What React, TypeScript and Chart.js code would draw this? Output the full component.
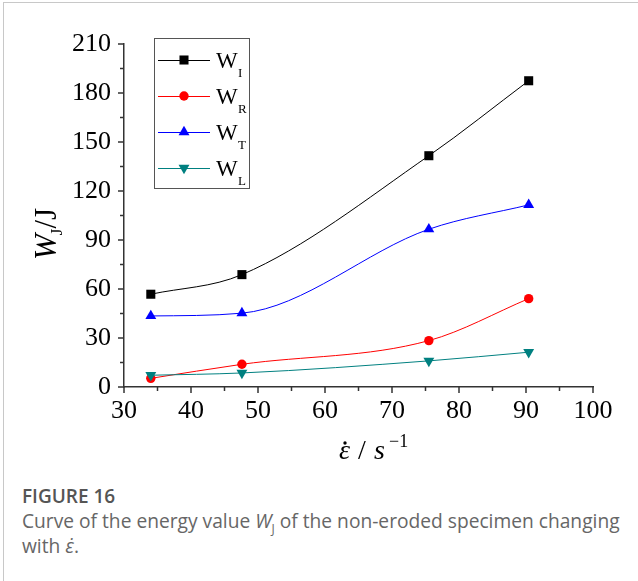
import React, { useEffect, useRef } from 'react';
import { Chart, registerables } from 'chart.js';

Chart.register(...registerables);

// ---- data ----
const strainRate = [34.0, 47.6, 75.5, 90.4];
const wI = [56.8, 68.8, 141.6, 187.5];
const wR = [5.3, 13.9, 28.4, 54.1];
const wT = [43.5, 45.2, 96.6, 111.5];
const wL = [7.2, 8.6, 16.0, 21.3];
const seriesSubs = ['I', 'R', 'T', 'L'];

const xTicks = [30, 40, 50, 60, 70, 80, 90, 100];
const xMinorTicks = [35, 45, 55, 65, 75, 85, 95];
const yTicks = [0, 30, 60, 90, 120, 150, 180, 210];
const yMinorTicks = [15, 45, 75, 105, 135, 165, 195];

const SERIF = "'Liberation Serif', 'Times New Roman', serif";

type Style = { line: string; fill: string; shape: string; rotation: number; radius: number };
const styles: Style[] = [
  { line: '#000000', fill: '#000000', shape: 'rect', rotation: 0, radius: 6.4 },
  { line: '#ff0000', fill: '#ff0000', shape: 'circle', rotation: 0, radius: 4.7 },
  { line: '#0000ff', fill: '#0000ff', shape: 'triangle', rotation: 0, radius: 6.3 },
  { line: '#008080', fill: '#008080', shape: 'triangle', rotation: 180, radius: 6.3 },
];
const seriesValues = [wI, wR, wT, wL];

function drawMarker(ctx: CanvasRenderingContext2D, st: Style, x: number, y: number) {
  ctx.save();
  ctx.fillStyle = st.fill;
  ctx.beginPath();
  const r = st.radius;
  if (st.shape === 'rect') {
    const s = Math.SQRT1_2 * r;
    ctx.rect(x - s, y - s, 2 * s, 2 * s);
  } else if (st.shape === 'circle') {
    ctx.arc(x, y, r, 0, Math.PI * 2);
  } else {
    let rad = (st.rotation * Math.PI) / 180;
    ctx.moveTo(x + Math.sin(rad) * r, y - Math.cos(rad) * r);
    rad += (2 * Math.PI) / 3;
    ctx.lineTo(x + Math.sin(rad) * r, y - Math.cos(rad) * r);
    rad += (2 * Math.PI) / 3;
    ctx.lineTo(x + Math.sin(rad) * r, y - Math.cos(rad) * r);
    ctx.closePath();
  }
  ctx.fill();
  ctx.restore();
}

const decorPlugin = {
  id: 'decor',
  afterDraw(chart: any) {
    const ctx: CanvasRenderingContext2D = chart.ctx;
    const xs = chart.scales.x;
    const ys = chart.scales.y;
    const { left, bottom } = chart.chartArea;
    ctx.save();
    // ticks
    ctx.strokeStyle = '#333';
    ctx.lineWidth = 1.5;
    const tick = (x1: number, y1: number, x2: number, y2: number) => {
      ctx.beginPath();
      ctx.moveTo(x1, y1);
      ctx.lineTo(x2, y2);
      ctx.stroke();
    };
    xTicks.forEach((v) => { const p = xs.getPixelForValue(v); tick(p, bottom, p, bottom + 6); });
    xMinorTicks.forEach((v) => { const p = xs.getPixelForValue(v); tick(p, bottom, p, bottom + 4); });
    yTicks.forEach((v) => { const p = ys.getPixelForValue(v); tick(left, p, left - 6, p); });
    yMinorTicks.forEach((v) => { const p = ys.getPixelForValue(v); tick(left, p, left - 4, p); });

    // legend
    ctx.strokeStyle = '#555';
    ctx.lineWidth = 1;
    ctx.strokeRect(154.5, 38.5, 95, 150);
    seriesSubs.forEach((sub, i) => {
      const st = styles[i];
      const y = 60 + i * 36;
      ctx.strokeStyle = st.line;
      ctx.lineWidth = 1;
      ctx.beginPath();
      ctx.moveTo(158, y + 0.5);
      ctx.lineTo(210, y + 0.5);
      ctx.stroke();
      drawMarker(ctx, st, 184, y);
      ctx.fillStyle = '#000';
      ctx.textBaseline = 'alphabetic';
      ctx.textAlign = 'left';
      ctx.font = `23px ${SERIF}`;
      ctx.fillText('W', 216, y + 8);
      ctx.font = `13px ${SERIF}`;
      ctx.fillText(sub, 238, y + 17);
    });

    // y axis title: W_J / J (rotated)
    ctx.save();
    ctx.translate(56, 234);
    ctx.rotate(-Math.PI / 2);
    ctx.fillStyle = '#000';
    ctx.textBaseline = 'alphabetic';
    ctx.textAlign = 'left';
    const fBig = `italic 31px ${SERIF}`;
    const fSub = `17px ${SERIF}`;
    const fUp = `31px ${SERIF}`;
    ctx.font = fBig;
    const wW = ctx.measureText('W').width;
    ctx.font = fSub;
    const wSub = ctx.measureText('J').width;
    ctx.font = fUp;
    const wRest = ctx.measureText('/J').width;
    const total = wW + wSub - 1 + wRest;
    let cx = -total / 2;
    ctx.font = fBig;
    ctx.fillText('W', cx, 0);
    cx += wW - 1;
    ctx.font = fSub;
    ctx.fillText('J', cx, 6);
    cx += wSub;
    ctx.font = fUp;
    ctx.fillText('/J', cx, 0);
    ctx.restore();

    // x axis title: ε̇ / s^-1
    ctx.fillStyle = '#000';
    ctx.textBaseline = 'alphabetic';
    ctx.textAlign = 'left';
    const by = 459;
    ctx.font = `italic 28px ${SERIF}`;
    ctx.fillText('\u03B5', 339, by);
    ctx.beginPath();
    ctx.arc(345, 443, 1.7, 0, Math.PI * 2);
    ctx.fill();
    ctx.font = `28px ${SERIF}`;
    ctx.fillText('/', 358, by);
    ctx.font = `italic 28px ${SERIF}`;
    ctx.fillText('s', 374, by);
    ctx.font = `18px ${SERIF}`;
    ctx.fillText('\u22121', 389, by - 12);

    ctx.restore();
  },
};

function ChartBox() {
  const ref = useRef<HTMLCanvasElement | null>(null);
  useEffect(() => {
    if (!ref.current) return;
    const datasets = seriesValues.map((vals, i) => ({
      label: 'W' + seriesSubs[i],
      data: vals.map((v, j) => ({ x: strainRate[j], y: v })),
      borderColor: styles[i].line,
      backgroundColor: styles[i].fill,
      pointBackgroundColor: styles[i].fill,
      pointBorderColor: styles[i].fill,
      pointBorderWidth: 0,
      pointStyle: styles[i].shape,
      pointRotation: styles[i].rotation,
      pointRadius: styles[i].radius,
      borderWidth: 1,
      cubicInterpolationMode: 'monotone',
      tension: 0.4,
      fill: false,
      order: 3 - i,
    }));
    const tickFont = { family: SERIF, size: 26, style: 'normal', weight: 'normal', lineHeight: 1.2 };
    const chart = new Chart(ref.current, {
      type: 'line',
      data: { datasets } as any,
      options: {
        animation: false,
        responsive: false,
        maintainAspectRatio: false,
        layout: { padding: { top: 44, right: 45, left: 0, bottom: 0 } },
        plugins: { legend: { display: false }, tooltip: { enabled: false } },
        scales: {
          x: {
            type: 'linear',
            min: 30,
            max: 100,
            afterBuildTicks: (s: any) => { s.ticks = xTicks.map((v) => ({ value: v })); },
            afterFit: (s: any) => { s.height = 83; },
            grid: { display: false, drawTicks: false },
            border: { display: true, color: '#333', width: 1.5 },
            ticks: { color: '#000', font: tickFont, padding: 9, maxRotation: 0, autoSkip: false },
          },
          y: {
            type: 'linear',
            min: 0,
            max: 210,
            afterBuildTicks: (s: any) => { s.ticks = yTicks.map((v) => ({ value: v })); },
            afterFit: (s: any) => { s.width = 124; },
            grid: { display: false, drawTicks: false },
            border: { display: true, color: '#333', width: 1.5 },
            ticks: { color: '#000', font: tickFont, padding: 13, autoSkip: false },
          },
        },
      } as any,
      plugins: [decorPlugin],
    });
    return () => chart.destroy();
  }, []);
  return <canvas ref={ref} width={638} height={470} style={{ display: 'block', position: 'absolute', left: 0, top: 0 }} />;
}

export default function App() {
  return (
    <div style={{ position: 'fixed', left: 0, top: 0, width: 638, height: 581, overflow: 'hidden', background: '#fff' }}>
      <div style={{ position: 'absolute', left: 3, top: 2, width: 700, height: 700, border: '1px solid #c8c8c8', boxSizing: 'border-box' }} />
      <ChartBox />
      <div style={{ position: 'absolute', left: 22, top: 484, width: 616, fontFamily: '"Open Sans", "Noto Sans", sans-serif' }}>
        <div style={{ fontSize: 19, fontWeight: 600, color: '#555', lineHeight: '24px' }}>FIGURE 16</div>
        <div style={{ fontSize: 19.2, color: '#666', lineHeight: '25px', whiteSpace: 'nowrap' }}>
          Curve of the energy value <i>W</i><sub style={{ fontSize: 12, verticalAlign: 'sub', lineHeight: 0 }}>J</sub> of the non-eroded specimen changing
          <br />
          with <i>{'\u03B5\u0307'}</i>.
        </div>
      </div>
    </div>
  );
}
